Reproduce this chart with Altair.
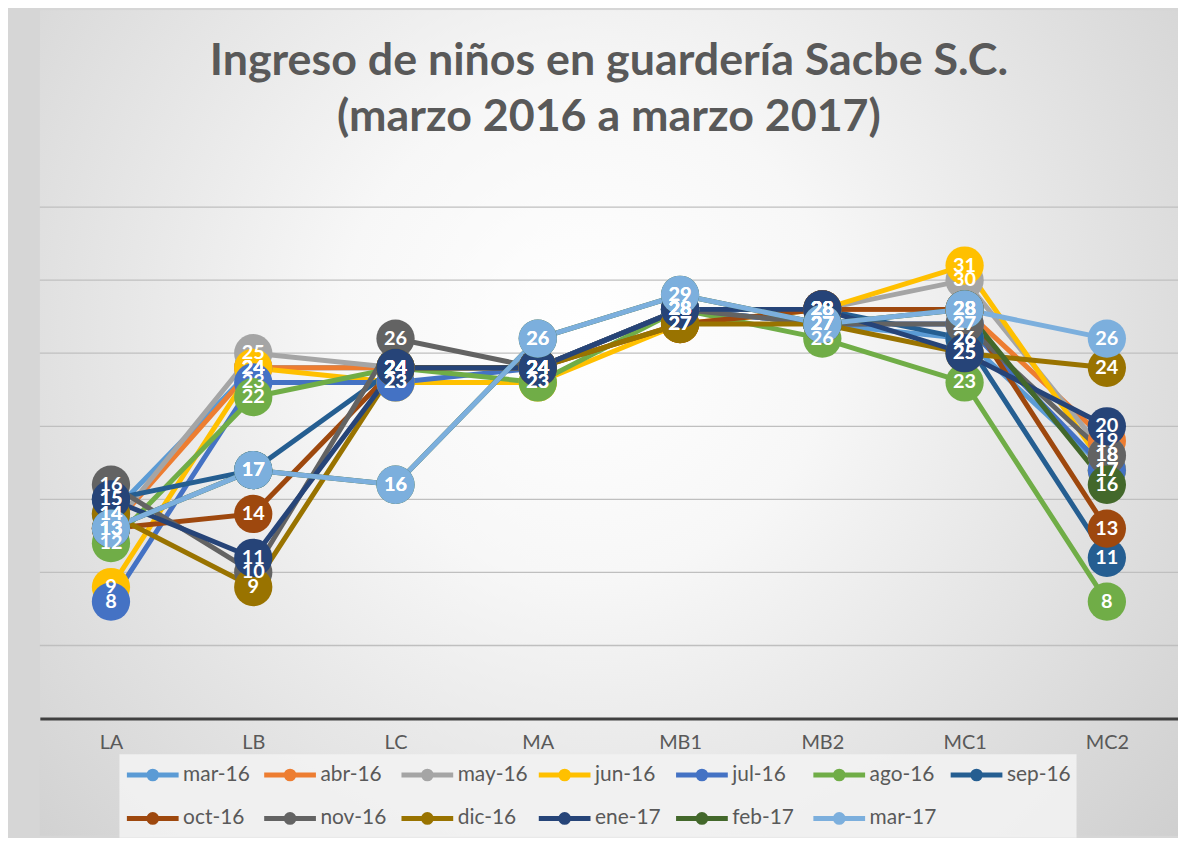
import altair as alt
import pandas as pd

categories = ["LA", "LB", "LC", "MA", "MB1", "MB2", "MC1", "MC2"]
series = ["mar-16", "abr-16", "may-16", "jun-16", "jul-16", "ago-16", "sep-16",
          "oct-16", "nov-16", "dic-16", "ene-17", "feb-17", "mar-17"]
colors = ["#5B9BD5", "#ED7D31", "#A5A5A5", "#FFC000", "#4472C4", "#70AD47", "#255E91",
          "#9E480E", "#636363", "#997300", "#264478", "#43682B", "#7CAFDD"]

mar16 = [14, 24, 24, 24, 28, 27, 26, 17]
abr16 = [13, 24, 24, 24, 28, 28, 28, 19]
may16 = [13, 25, 24, 24, 28, 28, 30, 18]
jun16 = [9, 24, 23, 23, 27, 28, 31, 17]
jul16 = [8, 23, 23, 24, 28, 27, 27, 17]
ago16 = [12, 22, 24, 23, 28, 26, 23, 8]
sep16 = [15, 17, 24, 24, 28, 28, 26, 11]
oct16 = [13, 14, 24, 24, 27, 28, 28, 13]
nov16 = [16, 10, 26, 24, 28, 27, 27, 18]
dic16 = [14, 9, 24, 24, 27, 27, 25, 24]
ene17 = [15, 11, 24, 24, 28, 28, 25, 20]
feb17 = [13, 17, 16, 26, 29, 27, 28, 16]
mar17 = [13, 17, 16, 26, 29, 27, 28, 26]

grid_values = [5, 10, 15, 20, 25, 30, 35]

values = [mar16, abr16, may16, jun16, jul16, ago16, sep16,
          oct16, nov16, dic16, ene17, feb17, mar17]

rows = []
for si, (s, vals) in enumerate(zip(series, values)):
    for ci, (c, v) in enumerate(zip(categories, vals)):
        rows.append({"mes": s, "sala": c, "valor": v, "orden": si})
df = pd.DataFrame(rows)

W, H = 1144, 830

yscale = alt.Scale(domain=[-8.03, 48.48], nice=False, zero=False)
x = alt.X("sala:N", sort=categories, scale=alt.Scale(padding=0.5),
          axis=alt.Axis(title=None, orient="bottom", offset=-118, labelAngle=0,
                        ticks=False, domainColor="#404040", domainWidth=3,
                        labelColor="#595959", labelFontSize=20, labelFont="Lato",
                        labelPadding=14, grid=False, zindex=1))
y = alt.Y("valor:Q", scale=yscale,
          axis=alt.Axis(title=None, labels=False, ticks=False, domain=False, grid=False))
color = alt.Color("mes:N", sort=series, scale=alt.Scale(domain=series, range=colors),
                  legend=alt.Legend(title=None, orient="none", legendX=80, legendY=748,
                                    columns=7, direction="horizontal",
                                    gridAlign="all", columnPadding=0, rowPadding=14,
                                    labelFontSize=21, labelFont="Lato", labelColor="#595959",
                                    symbolType="M-2,0L2,0M-0.3,0A0.3,0.3,0,1,1,0.3,0A0.3,0.3,0,1,1,-0.3,0Z",
                                    symbolSize=676, symbolStrokeWidth=5,
                                    symbolOffset=13, labelOffset=15, padding=5,
                                    fillColor="rgba(242,242,242,0.9)"))

bg = alt.Chart(pd.DataFrame({"k": [0]})).mark_rect(
    fill=alt.RadialGradient(
        gradient="radial", x1=0.48, y1=0.42, r1=0, x2=0.48, y2=0.42, r2=0.72,
        stops=[alt.GradientStop(offset=0, color="#FFFFFF"),
               alt.GradientStop(offset=0.3, color="#F7F7F7"),
               alt.GradientStop(offset=1, color="#CCCCCC")])
).encode(x=alt.value(0), x2=alt.value(W), y=alt.value(0), y2=alt.value(H))

grid = alt.Chart(pd.DataFrame({"g": grid_values})).mark_rule(
    color="#BFBFBF", strokeWidth=1.3
).encode(y=alt.Y("g:Q", scale=yscale), x=alt.value(0), x2=alt.value(W))

base = alt.Chart(df)
lines = base.mark_line(strokeWidth=5).encode(x=x, y=y, color=color, order="orden:Q")
points = base.mark_circle(size=1480, opacity=1).encode(x=x, y=y, color=color, order="orden:Q")
labels = base.mark_text(color="white", fontSize=20, font="Lato", fontWeight="bold",
                        baseline="middle", align="center").encode(
    x=x, y=y, text="valor:Q", order="orden:Q")

chart = alt.layer(bg, grid, lines, points, labels).properties(
    width=W, height=H,
    autosize=alt.AutoSizeParams(type="none"),
    padding={"left": 32, "top": 0, "right": 0, "bottom": 0},
    background="#D6D6D6",
    title=alt.TitleParams(
        text=["Ingreso de niños en guardería Sacbe S.C.", "(marzo 2016 a marzo 2017)"],
        fontSize=45, font="Lato", fontWeight="bold", color="#595959",
        lineHeight=57, offset=-131, anchor="middle"),
).configure_view(stroke=None)

chart.save("out.html", embed_options={"renderer": "svg", "actions": False})
